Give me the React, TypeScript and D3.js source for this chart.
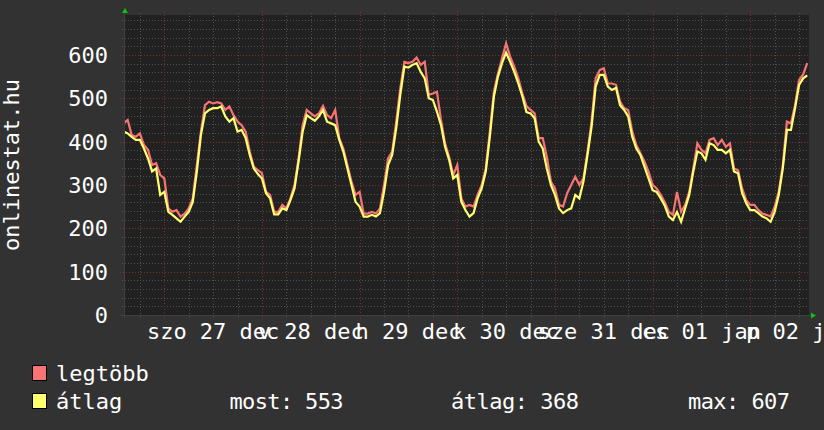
import { useEffect, useRef } from 'react';
import * as d3 from 'd3';

// hourly samples, first one at 2008-12-26 14:00 UTC
const START = Date.UTC(2008, 11, 26, 14);
const STEP_H = 1;

// "legtöbb" (max)
const maxValues = [
  442, 450, 415, 411, 419, 392, 381, 346, 350, 323,
  315, 246, 238, 242, 227, 234, 246, 269, 346, 423,
  484, 492, 488, 491, 488, 473, 481, 461, 446, 438,
  423, 377, 342, 334, 327, 284, 277, 238, 238, 254,
  246, 269, 300, 361, 438, 473, 465, 458, 465, 482,
  461, 454, 473, 408, 384, 346, 308, 277, 284, 234,
  234, 238, 234, 246, 300, 361, 377, 446, 523, 584,
  581, 584, 594, 577, 584, 508, 511, 515, 450, 396,
  365, 323, 346, 269, 250, 254, 250, 277, 300, 338,
  423, 515, 557, 592, 627, 596, 573, 546, 511, 482,
  473, 465, 408, 408, 365, 308, 292, 254, 250, 281,
  300, 319, 300, 315, 377, 446, 546, 565, 569, 534,
  534, 531, 492, 477, 473, 423, 392, 373, 354, 331,
  300, 292, 277, 260, 238, 231, 284, 238, 254, 284,
  338, 396, 381, 373, 404, 408, 392, 404, 388, 396,
  338, 334, 292, 265, 254, 254, 242, 234, 231, 227,
  250, 284, 346, 446, 442, 484, 542, 555, 581,
];

// "átlag" (average)
const avgValues = [
  423, 419, 411, 404, 404, 384, 361, 331, 338, 277,
  284, 238, 231, 223, 215, 227, 238, 261, 331, 415,
  465, 473, 477, 477, 481, 458, 446, 454, 423, 427,
  408, 369, 338, 325, 315, 281, 269, 232, 232, 246,
  242, 265, 292, 354, 423, 461, 454, 448, 458, 473,
  446, 442, 438, 404, 377, 338, 300, 261, 250, 227,
  227, 231, 227, 235, 284, 346, 369, 431, 508, 573,
  571, 577, 581, 561, 546, 500, 496, 469, 438, 388,
  358, 315, 323, 261, 242, 227, 235, 269, 292, 331,
  411, 504, 550, 581, 605, 584, 561, 534, 504, 468,
  465, 454, 400, 384, 338, 300, 277, 246, 235, 242,
  246, 277, 269, 308, 369, 434, 527, 554, 554, 527,
  519, 524, 484, 473, 458, 411, 384, 369, 342, 315,
  288, 284, 269, 252, 227, 219, 238, 215, 246, 277,
  331, 377, 373, 358, 396, 392, 381, 381, 373, 381,
  331, 327, 281, 258, 242, 242, 235, 227, 223, 215,
  238, 277, 338, 427, 427, 477, 531, 546, 553,
];

const dayLabels = ['szo 27 dec', 'v 28 dec', 'h 29 dec', 'k 30 dec', 'sze 31 dec', 'cs 01 jan', 'p 02 jan'];
const seriesNames = ['legtöbb', 'átlag'];
const statLabels = ['most: 553', 'átlag: 368', 'max: 607'];

const FONT = 'DejaVu Sans Mono, monospace';
const RED = '#f87474';
const YELLOW = '#ffff70';

export default function App() {
  const svgRef = useRef<SVGSVGElement>(null);

  useEffect(() => {
    const svgEl = svgRef.current;
    if (!svgEl) return;
    const W = 824, H = 430;
    const L = 124, R = 809, T = 15, B = 315;

    const svg = d3.select(svgEl);
    svg.selectAll('*').remove();
    svg.attr('width', W).attr('height', H);

    const x = d3.scaleUtc()
      .domain([new Date(Date.UTC(2008, 11, 26, 14, 6)), new Date(Date.UTC(2009, 0, 2, 14, 26))])
      .range([L, R]);
    const y = d3.scaleLinear().domain([0, 692]).range([B, T]);

    // ── background ──
    svg.append('rect').attr('width', W).attr('height', H).attr('fill', '#323232');
    svg.append('rect').attr('x', L).attr('y', T).attr('width', R - L).attr('height', B - T).attr('fill', '#212121');

    // ── grid ──
    const grid = svg.append('g').attr('shape-rendering', 'crispEdges');
    const minorY = d3.range(0, 692, 20).filter(v => v % 100 !== 0);
    const majorY = y.ticks(7);
    const minorX = x.ticks(d3.utcHour.every(6)!).filter(d => d.getUTCHours() !== 0);
    const majorX = x.ticks(d3.utcDay.every(1)!);

    minorY.forEach(v => {
      grid.append('line').attr('x1', L - 2).attr('x2', R).attr('y1', Math.round(y(v)) + 0.5).attr('y2', Math.round(y(v)) + 0.5)
        .attr('stroke', '#505050').attr('stroke-dasharray', '1,2');
    });
    minorX.forEach(d => {
      const px = Math.round(x(d)) + 0.5;
      grid.append('line').attr('x1', px).attr('x2', px).attr('y1', T - 2).attr('y2', B + 2)
        .attr('stroke', '#505050').attr('stroke-dasharray', '1,2');
    });
    majorY.forEach(v => {
      grid.append('line').attr('x1', L - 4).attr('x2', R).attr('y1', Math.round(y(v)) + 0.5).attr('y2', Math.round(y(v)) + 0.5)
        .attr('stroke', '#7a2e2e').attr('stroke-dasharray', '1,2');
    });
    majorX.forEach(d => {
      const px = Math.round(x(d)) + 0.5;
      grid.append('line').attr('x1', px).attr('x2', px).attr('y1', T - 3).attr('y2', B + 4)
        .attr('stroke', '#7a2e2e').attr('stroke-dasharray', '1,2');
    });

    // ── axes ──
    grid.append('line').attr('x1', L - 4).attr('x2', R + 3).attr('y1', B + 0.5).attr('y2', B + 0.5).attr('stroke', '#404040');
    grid.append('line').attr('x1', L + 0.5).attr('x2', L + 0.5).attr('y1', T - 3).attr('y2', B + 3).attr('stroke', '#404040');
    svg.append('path').attr('d', `M${L - 2},${T - 2}L${L + 4},${T - 2}L${L + 1},${T - 7}Z`).attr('fill', '#10c010');
    svg.append('path').attr('d', `M${R + 2},${B - 2.5}L${R + 2},${B + 3.5}L${R + 7},${B + 0.5}Z`).attr('fill', '#10c010');

    // ── lines ──
    svg.append('clipPath').attr('id', 'plotclip')
      .append('rect').attr('x', L + 1).attr('y', T).attr('width', R - L - 1).attr('height', B - T);
    const t = (i: number) => new Date(START + i * STEP_H * 3600e3);
    const line = d3.line<number>().x((_, i) => x(t(i))).y(v => y(v));
    const lines = svg.append('g').attr('clip-path', 'url(#plotclip)');
    lines.append('path').attr('d', line(maxValues)).attr('fill', 'none').attr('stroke', RED).attr('stroke-width', 2.2);
    lines.append('path').attr('d', line(avgValues)).attr('fill', 'none').attr('stroke', YELLOW).attr('stroke-width', 2.2);

    // ── labels ──
    const txt = svg.append('g').attr('font-family', FONT).attr('font-size', 22).attr('fill', '#fff');
    majorY.forEach(v => {
      txt.append('text').attr('x', 108).attr('y', y(v) + 8).attr('text-anchor', 'end').text(v);
    });
    majorX.forEach((d, i) => {
      if (!dayLabels[i]) return;
      txt.append('text').attr('x', x(d3.utcHour.offset(d, 12))).attr('y', 339).attr('text-anchor', 'middle').text(dayLabels[i]);
    });
    txt.append('text').attr('transform', `translate(19,${(T + B) / 2}) rotate(-90)`).attr('text-anchor', 'middle').text('onlinestat.hu');

    // ── legend ──
    [RED, YELLOW].forEach((c, i) => {
      svg.append('rect').attr('x', 32.5).attr('y', 365.5 + i * 28).attr('width', 14).attr('height', 15)
        .attr('fill', c).attr('stroke', '#000');
      txt.append('text').attr('x', 56).attr('y', 381 + i * 28).text(seriesNames[i]);
    });
    [229.5, 451, 688].forEach((px, i) => {
      txt.append('text').attr('x', px).attr('y', 409).attr('textLength', [114, 128, 102][i]).text(statLabels[i]);
    });
  }, []);

  return <svg ref={svgRef} style={{ position: 'absolute', left: 0, top: 0, display: 'block' }} />;
}
